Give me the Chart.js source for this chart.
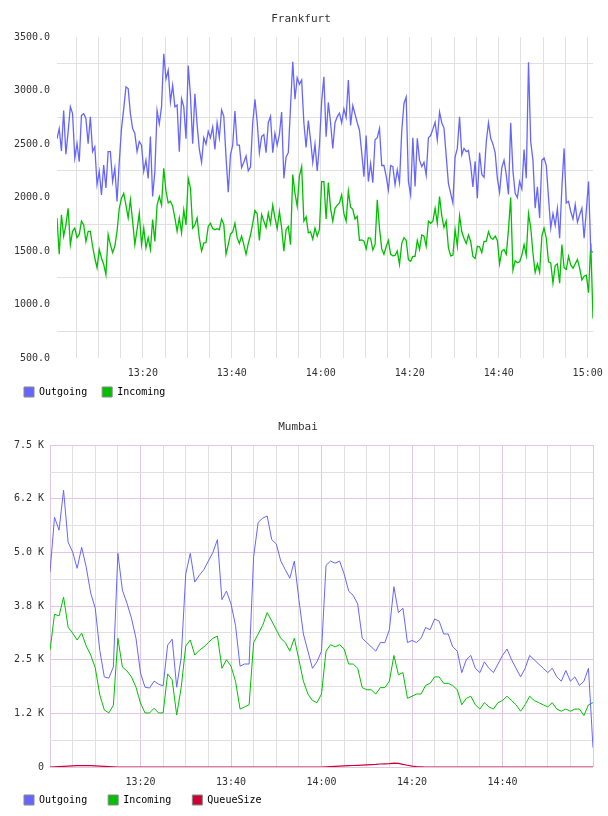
<!DOCTYPE html>
<html>
<head>
<meta charset="utf-8">
<script src="https://cdn.jsdelivr.net/npm/chart.js@4.4.0/dist/chart.umd.min.js"></script>
<style>
  html, body { margin: 0; padding: 0; background: #fff; }
  canvas { display: block; }
</style>
</head>
<body>
<canvas id="frankfurt" width="608" height="408"></canvas>
<canvas id="mumbai" width="608" height="408"></canvas>
<script>
// x values are minutes since midnight
const timeTickMinutes = [800, 820, 840, 860, 880, 900];
const timeTickLabels = ['13:20', '13:40', '14:00', '14:20', '14:40', '15:00'];

// Frankfurt: one sample every 30 s starting 13:00:42
const frankfurtStart = 780.7;
const frankfurtStep = 0.5;
const frankfurtOutgoing = [
  2550, 2645, 2435, 2815, 2405, 2615, 2850, 2785, 2370, 2505,
  2335, 2770, 2785, 2740, 2505, 2755, 2430, 2475, 2120, 2245,
  2025, 2305, 2090, 2430, 2430, 2150, 2275, 1965, 2335, 2645,
  2830, 3035, 3020, 2785, 2645, 2600, 2430, 2525, 2490, 2245,
  2350, 2180, 2570, 2010, 2245, 2815, 2690, 2850, 3345, 3110,
  3190, 2895, 3050, 2850, 2865, 2430, 2925, 2850, 2550, 3235,
  2955, 2505, 2970,
  2680, 2450, 2330, 2560, 2500, 2620, 2560, 2660, 2450, 2700,
  2560, 2820, 2760, 2380, 2050, 2400, 2490, 2810, 2490, 2490,
  2280, 2330, 2390, 2250, 2285, 2700, 2920, 2710, 2420, 2570,
  2590, 2420, 2700, 2760, 2420, 2600, 2490, 2590, 2800, 2180,
  2380, 2420, 2850, 3270, 2920, 3120, 3060, 3100, 2700, 2470,
  2720, 2540, 2330, 2500, 2250, 2490, 2900, 3130, 2570, 2890,
  2700, 2460, 2700, 2755, 2790, 2700, 2830, 2750, 3100, 2675,
  2860, 2780, 2700, 2630, 2420, 2195, 2580, 2150, 2320, 2140,
  2540, 2560, 2645, 2300, 2300, 2200, 2070, 2300, 2290, 2120,
  2260, 2140, 2620, 2880, 2940, 2150, 2025, 2560, 2105, 2555,
  2350, 2290, 2330, 2210, 2560, 2580, 2640, 2705, 2540, 2800,
  2700, 2650, 2390, 2130, 2040, 1950, 2380, 2460, 2755, 2400,
  2460,
  2430, 2440, 2305, 2100, 2340, 1995, 2420, 2215, 2190, 2520,
  2700, 2555, 2500, 2420, 2180, 2050, 2280, 2350, 2215, 2030,
  2700, 2250, 2040, 2000, 2150, 2080, 2450, 2180, 3265, 2520,
  2350, 1900, 2100, 1810, 2350, 2370, 2300, 2000, 1715, 1850,
  1740, 1900, 1620, 2090, 2460, 1950, 1965, 1870, 1800, 1935,
  1770, 1840, 1900, 1620, 1880, 2150, 1500, 1490
];
const frankfurtIncoming = [
  1810, 1470, 1840, 1640, 1745, 1900, 1560, 1685, 1715, 1625,
  1655, 1780, 1745, 1590, 1685, 1685, 1545, 1435, 1345, 1515,
  1435, 1375, 1280, 1655, 1560, 1485, 1545, 1685, 1900, 1995,
  2040, 1930, 1810, 1980, 1780, 1560, 1700, 1855, 1560, 1715,
  1530, 1625, 1515, 1795, 1590, 1930, 2010, 1930, 2275, 2060,
  1950, 1965, 1920, 1810, 1685, 1810, 1670, 1885, 1745, 2180,
  2090, 1715, 1745,
  1810, 1620, 1500, 1575, 1580, 1730, 1760, 1710, 1700, 1710,
  1700, 1800, 1750, 1470, 1560, 1660, 1680, 1760, 1625, 1570,
  1640, 1560, 1470, 1570, 1650, 1760, 1880, 1850, 1600, 1840,
  1780, 1720, 1855, 1760, 1930, 1810, 1710, 1870, 1720, 1500,
  1700, 1730, 1560, 2215, 2040, 1920, 2200, 2290, 1780, 1820,
  1670, 1680, 1610, 1715, 1640, 1700, 2150, 2150, 1800, 2140,
  1900, 1780, 1900, 1930, 1950, 2025, 1850, 1780, 2060, 1910,
  1890, 1800, 1825, 1600, 1605, 1595, 1520, 1625, 1620, 1510,
  1560, 1980, 1715, 1520, 1470, 1540, 1600, 1470, 1455, 1460,
  1500, 1375, 1570, 1625, 1600, 1420, 1405, 1450, 1450, 1600,
  1515, 1650, 1640, 1545, 1780, 1760, 1780, 1900, 1760, 2010,
  1830, 1720, 1780, 1530, 1455, 1460, 1700, 1545, 1830, 1680,
  1620,
  1570, 1650, 1590, 1450, 1430, 1545, 1540, 1485, 1590, 1590,
  1680, 1625, 1610, 1640, 1600, 1380, 1500, 1515, 1470, 1700,
  2000, 1320, 1410, 1390, 1400, 1460, 1560, 1460, 1850, 1720,
  1480, 1300, 1380, 1300, 1640, 1715, 1620, 1400, 1390, 1200,
  1365, 1380, 1200, 1560, 1345, 1330, 1450, 1370, 1340, 1380,
  1420, 1340, 1230, 1265, 1275, 1110, 1570, 870
];

// Mumbai: one sample per minute, 13:00 - 15:00
const mumbaiStart = 780;
const mumbaiStep = 1;
const mumbaiOutgoing = [
  4540, 5820, 5520, 6450, 5240, 5010, 4630, 5120, 4660, 4050,
  3700, 2720, 2100, 2070, 2330, 4980, 4120, 3820, 3470, 3000,
  2190, 1860, 1840, 2000, 1930, 1890, 2840, 2980, 1860, 2560,
  4500, 4980, 4310, 4470, 4600, 4800, 5000, 5300, 3900, 4100,
  3800, 3300, 2350, 2400, 2400, 4900, 5700, 5800, 5850, 5300,
  5200, 4800, 4600, 4400, 4800, 3900, 3100, 2700, 2300, 2450,
  2700, 4700, 4800, 4750, 4800, 4500, 4100, 4000, 3800, 3000,
  2900, 2800, 2700, 2900, 2900, 3200, 4200, 3600, 3700, 2900,
  2950, 2900, 3000, 3250, 3200, 3450, 3400, 3100, 3100, 2800,
  2700, 2200, 2500, 2600, 2300, 2200, 2450, 2300, 2200, 2400,
  2600, 2750, 2500, 2300, 2100, 2300, 2600, 2500, 2400, 2300,
  2200, 2300, 2100, 2000, 2250, 2000, 2100, 1900, 2000, 2300,
  450
];
const mumbaiIncoming = [
  2720, 3560, 3520, 3960, 3260, 3120, 2960, 3120, 2820, 2610,
  2310, 1680, 1330, 1260, 1440, 3000, 2330, 2240, 2100, 1860,
  1490, 1260, 1260, 1370, 1260, 1260, 2170, 2030, 1210, 1860,
  2820, 2960, 2610, 2720, 2800, 2900, 3000, 3050, 2300, 2500,
  2350, 2000, 1350, 1400, 1450, 2900, 3100, 3300, 3600, 3400,
  3200, 3000, 2900, 2700, 3000, 2500, 2000, 1700, 1550, 1500,
  1700, 2700, 2850, 2800, 2850, 2750, 2400, 2400, 2300, 1850,
  1800, 1800, 1700, 1850, 1850, 2000, 2600, 2150, 2200, 1600,
  1650, 1700, 1700, 1900, 1950, 2100, 2100, 1950, 1950, 1900,
  1800, 1450, 1600, 1650, 1450, 1350, 1500, 1400, 1350, 1500,
  1550, 1650, 1550, 1450, 1300, 1450, 1650, 1550, 1500, 1450,
  1400, 1500, 1350, 1300, 1350, 1300, 1350, 1350, 1200, 1450,
  1500
];
const mumbaiQueueSize = [
  0, 5, 10, 15, 20, 25, 30, 30, 30, 30,
  25, 20, 15, 10, 5, 0, 0, 0, 0, 0,
  0, 0, 0, 0, 0, 0, 0, 0, 0, 0,
  0, 0, 0, 0, 0, 0, 0, 0, 0, 0,
  0, 0, 0, 0, 0, 0, 0, 0, 0, 0,
  0, 0, 0, 0, 0, 0, 0, 0, 0, 0,
  0, 5, 10, 15, 20, 25, 30, 35, 40, 45,
  50, 55, 60, 70, 75, 80, 90, 85, 60, 40,
  20, 10, 5, 0, 0, 0, 0, 0, 0, 0,
  0, 0, 0, 0, 0, 0, 0, 0, 0, 0,
  0, 0, 0, 0, 0, 0, 0, 0, 0, 0,
  0, 0, 0, 0, 0, 0, 0, 0, 0, 0,
  0
];

// Mumbai y tick labels, one per 1250
const mumbaiYLabels = ['0', '1.2 K', '2.5 K', '3.8 K', '5.0 K', '6.2 K', '7.5 K'];

const BLUE = '#6666ff';
const GREEN = '#00c000';
const RED = '#cc0033';
const GRID = '#e0e0e0';
const PINK = '#e3c6e3';

Chart.defaults.font.family = "'DejaVu Sans Mono', monospace";
Chart.defaults.font.size = 10;
Chart.defaults.color = '#333';

function toPoints(values, start, step) {
  return values.map((v, i) => ({ x: start + i * step, y: v }));
}

function timeLabel(v) {
  const i = timeTickMinutes.indexOf(Math.round(v));
  return Math.abs(v - Math.round(v)) < 1e-6 && i >= 0 ? timeTickLabels[i] : '';
}

function keepFiveMinuteTicks(scale) {
  scale.ticks = scale.ticks.filter(t => Math.abs(t.value / 5 - Math.round(t.value / 5)) < 1e-6);
}

// short x axis box, labels may spill below it and past the right edge
function shortXAxis(h) {
  return s => {
    s.height = h;
    s.paddingLeft = 0;
    s.paddingRight = 0;
    s._computeLabelArea = () => undefined;
  };
}

function legendLabels(chart) {
  return chart.data.datasets.map((d, i) => ({
    text: d.label,
    fillStyle: d.borderColor,
    strokeStyle: '#888',
    lineWidth: 1,
    hidden: false,
    datasetIndex: i
  }));
}

function lineSet(label, color, points, width) {
  return {
    label: label,
    data: points,
    borderColor: color,
    backgroundColor: color,
    borderWidth: width,
    pointRadius: 0,
    tension: 0,
    fill: false
  };
}

// ---- Frankfurt ----
new Chart(document.getElementById('frankfurt'), {
  type: 'line',
  data: {
    datasets: [
      lineSet('Outgoing', BLUE, toPoints(frankfurtOutgoing, frankfurtStart, frankfurtStep), 1.3),
      lineSet('Incoming', GREEN, toPoints(frankfurtIncoming, frankfurtStart, frankfurtStep), 1.3)
    ]
  },
  options: {
    responsive: false,
    animation: false,
    events: [],
    layout: { padding: { left: 9, right: 15, top: 0, bottom: 1 } },
    plugins: {
      title: {
        display: true,
        text: 'Frankfurt',
        font: { size: 11, weight: 'normal' },
        color: '#333',
        padding: { top: 13, bottom: 11 }
      },
      legend: {
        position: 'bottom',
        align: 'start',
        labels: { boxWidth: 10, boxHeight: 10, padding: 15, generateLabels: legendLabels }
      },
      tooltip: { enabled: false }
    },
    scales: {
      x: {
        type: 'linear',
        min: 780.7,
        max: 901.2,
        afterBuildTicks: keepFiveMinuteTicks,
        afterFit: shortXAxis(14),
        border: { display: false },
        grid: { color: GRID, drawTicks: false },
        ticks: {
          stepSize: 5, includeBounds: false, autoSkip: false, maxRotation: 0, padding: 9,
          callback: v => timeLabel(v)
        }
      },
      y: {
        min: 500,
        max: 3500,
        afterFit: s => { s.width = 48; },
        border: { display: false },
        grid: {
          drawTicks: false,
          color: c => (c.tick && c.tick.value % 500 === 0) ? 'rgba(0,0,0,0)' : GRID
        },
        ticks: {
          stepSize: 250,
          autoSkip: false,
          padding: 7,
          callback: v => v % 500 === 0 ? v.toFixed(1) : ''
        }
      }
    }
  }
});

// ---- Mumbai ----
new Chart(document.getElementById('mumbai'), {
  type: 'line',
  data: {
    datasets: [
      lineSet('Outgoing', BLUE, toPoints(mumbaiOutgoing, mumbaiStart, mumbaiStep), 1),
      lineSet('Incoming', GREEN, toPoints(mumbaiIncoming, mumbaiStart, mumbaiStep), 1),
      lineSet('QueueSize', RED, toPoints(mumbaiQueueSize, mumbaiStart, mumbaiStep), 1.2)
    ]
  },
  options: {
    responsive: false,
    animation: false,
    events: [],
    layout: { padding: { left: 3, right: 15, top: 0, bottom: 1 } },
    plugins: {
      title: {
        display: true,
        text: 'Mumbai',
        font: { size: 11, weight: 'normal' },
        color: '#333',
        padding: { top: 13, bottom: 11 }
      },
      legend: {
        position: 'bottom',
        align: 'start',
        labels: { boxWidth: 10, boxHeight: 10, padding: 21, generateLabels: legendLabels }
      },
      tooltip: { enabled: false }
    },
    scales: {
      x: {
        type: 'linear',
        min: 780,
        max: 900,
        afterBuildTicks: keepFiveMinuteTicks,
        afterFit: shortXAxis(7),
        border: { display: false },
        grid: {
          drawTicks: false,
          color: c => (c.tick && c.tick.value % 20 === 0) ? PINK : GRID
        },
        ticks: {
          stepSize: 5, autoSkip: false, maxRotation: 0, padding: 9,
          callback: v => (v === 780 || v === 900) ? '' : timeLabel(v)
        }
      },
      y: {
        min: 0,
        max: 7500,
        afterFit: s => { s.width = 47; },
        border: { display: false },
        grid: {
          drawTicks: false,
          color: c => (c.tick && c.tick.value % 1250 === 0) ? PINK : GRID
        },
        ticks: {
          stepSize: 625,
          autoSkip: false,
          padding: 6,
          callback: v => v % 1250 === 0 ? mumbaiYLabels[v / 1250] : ''
        }
      }
    }
  }
});
</script>
</body>
</html>
